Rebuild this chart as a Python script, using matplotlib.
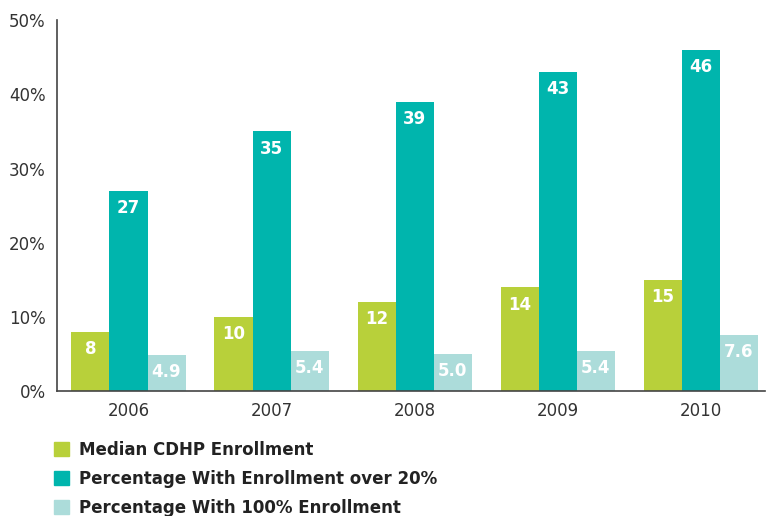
import matplotlib.pyplot as plt
import numpy as np
from matplotlib.patches import Patch

years = ['2006', '2007', '2008', '2009', '2010']
median_cdhp = [8, 10, 12, 14, 15]
over_20 = [27, 35, 39, 43, 46]
full_100 = [4.9, 5.4, 5.0, 5.4, 7.6]
full_100_labels = ['4.9', '5.4', '5.0', '5.4', '7.6']

series = [
    (median_cdhp, [str(v) for v in median_cdhp], '#b8d03a', 'Median CDHP Enrollment'),
    (over_20, [str(v) for v in over_20], '#00b5ad', 'Percentage With Enrollment over 20%'),
    (full_100, full_100_labels, '#acdcda', 'Percentage With 100% Enrollment'),
]

fig = plt.figure(figsize=(7.68, 5.16), dpi=100)
ax = fig.add_axes([0.0742, 0.242, 0.922, 0.719])

x = np.arange(len(years))
w = 0.266
for i, (vals, labels, color, name) in enumerate(series):
    pos = x + (i - 1) * w
    ax.bar(pos, vals, width=w, color=color, label=name)
    for p, v, lab in zip(pos, vals, labels):
        ax.annotate(lab, (p, v), xytext=(0, -6), textcoords='offset points',
                    ha='center', va='top', color='white', fontsize=12, fontweight='bold')

ax.set_xlim(-0.5, 4.45)
ax.set_ylim(0, 50)
ax.set_yticks([0, 10, 20, 30, 40, 50])
ax.set_yticklabels(['0%', '10%', '20%', '30%', '40%', '50%'])
ax.set_xticks(x)
ax.set_xticklabels(years)
ax.tick_params(length=0, labelsize=12, colors='#333333', pad=8)
ax.tick_params(axis='x', pad=8)
for s in ['top', 'right']:
    ax.spines[s].set_visible(False)
for s in ['left', 'bottom']:
    ax.spines[s].set_color('#444444')
    ax.spines[s].set_linewidth(1.2)

handles = [Patch(color=c, label=n) for _, _, c, n in series]
leg = fig.legend(handles=handles, loc='upper left', bbox_to_anchor=(0.062, 0.158),
                 frameon=False, fontsize=12, handlelength=0.9, handleheight=0.9,
                 handletextpad=0.6, labelspacing=0.65, borderaxespad=0)
for t in leg.get_texts():
    t.set_fontweight('bold')
    t.set_color('#222222')

fig.savefig('out.png', dpi=100)
